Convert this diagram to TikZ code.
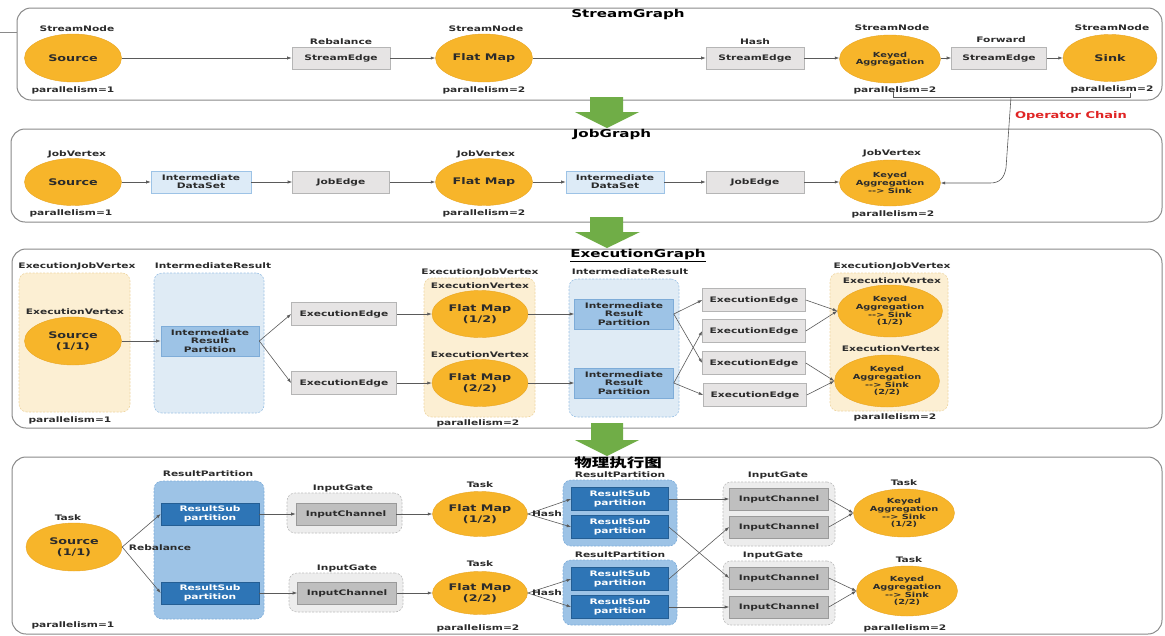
\documentclass[tikz,border=0pt]{standalone}
\usepackage{fontspec}
\newfontfamily\dfont{DejaVu Sans}[FakeStretch=1.4]
\newfontfamily\cjkfont{Noto Sans CJK SC}[FakeStretch=1.4]
\usetikzlibrary{arrows.meta,shapes.geometric}
\definecolor{txt}{HTML}{2B2B2B}
\definecolor{frm}{HTML}{8A8A8A}
\definecolor{orng}{HTML}{F7B52A}
\definecolor{orngd}{HTML}{E9A520}
\definecolor{ebf}{HTML}{E6E4E4}
\definecolor{ebd}{HTML}{B5B5B5}
\definecolor{dsf}{HTML}{DDEBF7}
\definecolor{dsd}{HTML}{9DC3E6}
\definecolor{irpf}{HTML}{9DC3E6}
\definecolor{irpd}{HTML}{7EACD8}
\definecolor{rspf}{HTML}{2E75B6}
\definecolor{rspd}{HTML}{245E94}
\definecolor{icf}{HTML}{BFBFBF}
\definecolor{icd}{HTML}{9A9A9A}
\definecolor{gof}{HTML}{FCEFD3}
\definecolor{god}{HTML}{EED6A3}
\definecolor{gbf}{HTML}{DFEBF5}
\definecolor{gbd}{HTML}{9DC3E6}
\definecolor{grf}{HTML}{9DC3E6}
\definecolor{grd}{HTML}{7FAEDB}
\definecolor{ggf}{HTML}{EDEDED}
\definecolor{ggd}{HTML}{BDBDBD}
\definecolor{cn}{HTML}{5A5A5A}
\definecolor{grn}{HTML}{70AD47}
\definecolor{opred}{HTML}{E02424}
\begin{document}
\begin{tikzpicture}[x=1pt,y=-1pt,
  every node/.style={text=txt},
  frame/.style={draw=frm, line width=1pt, rounded corners=14pt, inner sep=0pt},
  title/.style={inner sep=0pt, font=\dfont\bfseries\fontsize{10.8}{12}\selectfont, text=black},
  lbl/.style={inner sep=0pt, font=\dfont\bfseries\fontsize{7.6}{8}\selectfont},
  ell/.style={ellipse, fill=orng, draw=orngd, line width=0.4pt, inner sep=0pt, align=center,
    minimum width=97pt, minimum height=48pt, font=\dfont\bfseries\fontsize{9.1}{11.4}\selectfont},
  ells/.style={ell, minimum width=101pt, font=\dfont\bfseries\fontsize{7}{7.8}\selectfont},
  ebox/.style={rectangle, fill=ebf, draw=ebd, line width=0.6pt, inner sep=0pt, align=center,
    minimum width=98pt, minimum height=22pt, font=\dfont\bfseries\fontsize{7.6}{8.3}\selectfont},
  dsbox/.style={ebox, fill=dsf, draw=dsd},
  irpbox/.style={ebox, fill=irpf, draw=irpd, minimum width=98pt, minimum height=30pt},
  exbox/.style={ebox, minimum width=103pt, minimum height=23pt},
  rspbox/.style={ebox, fill=rspf, draw=rspd, text=white, minimum width=97pt, minimum height=23pt},
  icbox/.style={ebox, fill=icf, draw=icd, minimum width=99pt, minimum height=22pt},
  grpO/.style={rectangle, rounded corners=8pt, fill=gof, draw=god, dash pattern=on 2pt off 1.5pt, line width=0.6pt, inner sep=0pt},
  grpB/.style={grpO, fill=gbf, draw=gbd},
  grpR/.style={grpO, fill=grf, draw=grd},
  grpG/.style={grpO, fill=ggf, draw=ggd},
  conn/.style={draw=cn, line width=0.6pt, -{Latex[length=4.5pt,width=3.2pt]}},
  cline/.style={draw=cn, line width=0.6pt},
  gar/.style={fill=grn}
]
\useasboundingbox (0,0) rectangle (1165,635);
\fill[white] (0,0) rectangle (1165,635);

% ---------------- frames ----------------
\node[frame, minimum width=1145pt, minimum height=92pt] (F1) at (589.5,54) {};
\node[frame, minimum width=1151pt, minimum height=93pt] (F2) at (586.5,175.5) {};
\node[frame, minimum width=1150pt, minimum height=179pt] (F3) at (587,338.5) {};
\node[frame, minimum width=1150pt, minimum height=177pt] (F4) at (587,545.5) {};
\coordinate (lin) at (0,32);
\draw[cline, draw=frm, line width=1pt] (lin) -- (F1.west |- lin);

% ---------------- green arrows ----------------
\fill[gar] (590,97) -- (623,97) -- (623,112) -- (639,112) -- (607,128) -- (575,112) -- (590,112) -- cycle;
\fill[gar] (590,217) -- (623,217) -- (623,232) -- (640,232) -- (607,248) -- (575,232) -- (590,232) -- cycle;
\fill[gar] (591,423) -- (623,423) -- (623,440) -- (639,440) -- (607,456) -- (575,440) -- (591,440) -- cycle;

% ---------------- titles ----------------
\node[title] (T1) at (628,15) {StreamGraph};
\node[title] (T2) at (612,135) {JobGraph};
\node[title] (T3) at (638,256) {\underline{ExecutionGraph}};
\node[title, font=\cjkfont\bfseries\fontsize{12.5}{14}\selectfont] (T4) at (618,463) {物理执行图};

% ================= StreamGraph =================
\node[ell] (s1) at (73,58) {Source};
\node[lbl] (s1t) at (77,29) {StreamNode};
\node[lbl] (s1p) at (73,90) {parallelism=1};
\node[ebox] (e1) at (341,58) {StreamEdge};
\node[lbl] (e1t) at (341,42) {Rebalance};
\node[ell] (fm1) at (484,58) {Flat Map};
\node[lbl] (fm1t) at (486,29) {StreamNode};
\node[lbl] (fm1p) at (484,90) {parallelism=2};
\node[ebox] (e2) at (755,58) {StreamEdge};
\node[lbl] (e2t) at (755,42) {Hash};
\node[ells, minimum height=48pt] (k1) at (890,59) {Keyed\\Aggregation};
\node[lbl] (k1t) at (892,28) {StreamNode};
\node[lbl] (k1p) at (895,90) {parallelism=2};
\node[ebox, minimum width=95pt] (e3) at (999,58) {StreamEdge};
\node[lbl] (e3t) at (1001,40) {Forward};
\node[ell, minimum width=94pt, minimum height=47pt] (sk) at (1110,58) {Sink};
\node[lbl] (skt) at (1112,28) {StreamNode};
\node[lbl] (skp) at (1112,89) {parallelism=2};

\draw[conn] (s1.east) -- (e1.west);
\draw[conn] (e1.east) -- (fm1.west);
\draw[conn] (fm1.east) -- (e2.west);
\draw[conn] (e2.east) -- (k1.west |- e2.east);
\draw[conn] (k1.east |- e3.west) -- (e3.west);
\draw[conn] (e3.east) -- (sk.west);

% operator chain bracket
\coordinate (ocA) at (893,92);
\coordinate (ocB) at (893,97);
\coordinate (ocC) at (1130,97);
\coordinate (ocD) at (1130,93);
\coordinate (ocM) at (1011,97);
\draw[cline] (ocA) -- (ocB) -- (ocC) -- (ocD);
\node[inner sep=0pt, font=\dfont\bfseries\fontsize{9.3}{10}\selectfont, text=opred] (opc) at (1071,116) {Operator Chain};

% ================= JobGraph =================
\node[ell, minimum height=47pt] (s2) at (73,182) {Source};
\node[lbl] (s2t) at (77,154) {JobVertex};
\node[lbl] (s2p) at (71,213) {parallelism=1};
\node[dsbox, minimum width=100pt] (d1) at (201,182) {Intermediate\\DataSet};
\node[ebox, minimum width=97pt] (j1) at (341,182) {JobEdge};
\node[ell, minimum height=47pt] (fm2) at (484,182) {Flat Map};
\node[lbl] (fm2t) at (486,154) {JobVertex};
\node[lbl] (fm2p) at (484,213) {parallelism=2};
\node[dsbox, minimum width=98pt] (d2) at (615,182) {Intermediate\\DataSet};
\node[ebox] (j2) at (755,182) {JobEdge};
\node[ells, minimum height=46pt] (k2) at (890,183) {Keyed\\Aggregation\\-{}-> Sink};
\node[lbl] (k2t) at (892,153) {JobVertex};
\node[lbl] (k2p) at (893,214) {parallelism=2};

\draw[conn] (s2.east) -- (d1.west);
\draw[conn] (d1.east) -- (j1.west);
\draw[conn] (j1.east) -- (fm2.west);
\draw[conn] (fm2.east) -- (d2.west);
\draw[conn] (d2.east) -- (j2.west);
\draw[conn] (j2.east) -- (k2.west |- j2.east);
\draw[conn] (ocM) -- (1006,168) .. controls (1004,178) and (1000,183) .. (990,183) -- (k2.east);

% ================= ExecutionGraph =================
\node[grpO, minimum width=111pt, minimum height=139pt] (og1) at (74.5,342.5) {};
\node[grpB, minimum width=110pt, minimum height=140pt] (bg1) at (209,343) {};
\node[grpO, minimum width=111pt, minimum height=139pt] (og2) at (479.5,347.5) {};
\node[grpB, minimum width=110pt, minimum height=138pt] (bg2) at (624,348) {};
\node[grpO, minimum width=118pt, minimum height=138pt] (og3) at (889,342) {};

\node[lbl] (og1t) at (77,266) {ExecutionJobVertex};
\node[lbl] (ev1) at (75,312) {ExecutionVertex};
\node[ell, minimum height=48pt] (s3) at (73,341) {Source\\(1/1)};
\node[lbl] (s3p) at (70,420) {parallelism=1};
\node[lbl] (bg1t) at (213,266) {IntermediateResult};
\node[irpbox] (irp0) at (210,341) {Intermediate\\Result\\Partition};
\node[exbox, minimum width=105pt] (ee1) at (344,314) {ExecutionEdge};
\node[exbox, minimum width=105pt] (ee2) at (344,383) {ExecutionEdge};

\node[lbl] (og2t) at (480,272) {ExecutionJobVertex};
\node[lbl] (ev2) at (480,286) {ExecutionVertex};
\node[ell, minimum width=96pt, minimum height=47pt] (fm3a) at (480,314) {Flat Map\\(1/2)};
\node[lbl] (ev3) at (480,355) {ExecutionVertex};
\node[ell, minimum width=96pt, minimum height=47pt] (fm3b) at (480,383) {Flat Map\\(2/2)};
\node[lbl] (og2p) at (478,423) {parallelism=2};
\node[lbl] (bg2t) at (630,272) {IntermediateResult};
\node[irpbox, minimum width=99pt] (irp1) at (624,314) {Intermediate\\Result\\Partition};
\node[irpbox, minimum width=99pt] (irp2) at (624,383) {Intermediate\\Result\\Partition};
\node[exbox] (ee3) at (754,300) {ExecutionEdge};
\node[exbox] (ee4) at (754,331) {ExecutionEdge};
\node[exbox] (ee5) at (754,363) {ExecutionEdge};
\node[exbox] (ee6) at (755,395) {ExecutionEdge};

\node[lbl] (og3t) at (892,266) {ExecutionJobVertex};
\node[lbl] (ev4) at (892,281) {ExecutionVertex};
\node[ells, minimum width=105pt, minimum height=52pt] (ka3a) at (890,311) {Keyed\\Aggregation\\-{}-> Sink\\(1/2)};
\node[lbl] (ev5) at (891,349) {ExecutionVertex};
\node[ells, minimum width=105pt, minimum height=52pt] (ka3b) at (887,381) {Keyed\\Aggregation\\-{}-> Sink\\(2/2)};
\node[lbl] (og3p) at (895,417) {parallelism=2};

\draw[conn] (s3.east) -- (irp0.west);
\draw[conn] (irp0.east) -- (ee1.west);
\draw[conn] (irp0.east) -- (ee2.west);
\draw[conn] (ee1.east) -- (fm3a.west);
\draw[conn] (ee2.east) -- (fm3b.west);
\draw[conn] (fm3a.east) -- (irp1.west);
\draw[conn] (fm3b.east) -- (irp2.west);
\draw[conn] (irp1.east) -- (ee3.west);
\draw[conn] (irp1.east) -- (ee5.west);
\draw[conn] (irp2.east) -- (ee4.west);
\draw[conn] (irp2.east) -- (ee6.west);
\draw[conn] (ee3.east) -- (ka3a.west);
\draw[conn] (ee4.east) -- (ka3a.west);
\draw[conn] (ee5.east) -- (ka3b.west);
\draw[conn] (ee6.east) -- (ka3b.west);

% ================= physical graph =================
\node[grpR, minimum width=110pt, minimum height=138pt] (rp1) at (209,550) {};
\node[grpG, minimum width=115pt, minimum height=40pt] (g1) at (344.5,513) {};
\node[grpG, minimum width=114pt, minimum height=39pt] (g2) at (346,592.5) {};
\node[grpR, minimum width=114pt, minimum height=66pt] (rp2) at (620,513) {};
\node[grpR, minimum width=114pt, minimum height=65pt] (rp3) at (620,592.5) {};
\node[grpG, minimum width=112pt, minimum height=64pt] (g3) at (779,514) {};
\node[grpG, minimum width=112pt, minimum height=64pt] (g4) at (779,593) {};

\node[lbl] (s4t) at (68,518) {Task};
\node[ell, minimum width=96pt, minimum height=48pt] (s4) at (74,547) {Source\\(1/1)};
\node[lbl] (s4p) at (73,625) {parallelism=1};
\node[lbl] (rp1t) at (208,474) {ResultPartition};
\node[rspbox, minimum width=98pt, minimum height=22pt] (r1) at (210,514) {ResultSub\\partition};
\node[rspbox, minimum width=98pt, minimum height=22pt] (r2) at (210,593) {ResultSub\\partition};
\node[lbl] (g1t) at (343,488) {InputGate};
\node[icbox, minimum width=100pt] (ic1) at (346,514) {InputChannel};
\node[lbl] (g2t) at (347,568) {InputGate};
\node[icbox] (ic2) at (347,593) {InputChannel};

\node[lbl] (fm4at) at (480,485) {Task};
\node[ell, minimum width=95pt, minimum height=45pt] (fm4a) at (480,514) {Flat Map\\(1/2)};
\node[lbl] (fm4bt) at (480,564) {Task};
\node[ell, minimum width=95pt, minimum height=43pt] (fm4b) at (480,593) {Flat Map\\(2/2)};
\node[lbl] (fm4p) at (478,628) {parallelism=2};

\node[lbl] (rp2t) at (620,475) {ResultPartition};
\node[rspbox] (r1a) at (620,499) {ResultSub\\partition};
\node[rspbox] (r1b) at (620,527) {ResultSub\\partition};
\node[lbl] (rp3t) at (620,555) {ResultPartition};
\node[rspbox] (r2a) at (620,579) {ResultSub\\partition};
\node[rspbox] (r2b) at (620,607) {ResultSub\\partition};

\node[lbl] (g3t) at (778,475) {InputGate};
\node[icbox] (ic1a) at (779,499) {InputChannel};
\node[icbox] (ic1b) at (779,527) {InputChannel};
\node[lbl] (g4t) at (773,555) {InputGate};
\node[icbox] (ic2a) at (779,578) {InputChannel};
\node[icbox] (ic2b) at (779,607) {InputChannel};

\node[lbl] (ka4at) at (904,483) {Task};
\node[ells, minimum width=101pt, minimum height=48pt] (ka4a) at (904,513) {Keyed\\Aggregation\\-{}-> Sink\\(1/2)};
\node[lbl] (ka4bt) at (909,560) {Task};
\node[ells, minimum width=101pt, minimum height=50pt] (ka4b) at (907,591) {Keyed\\Aggregation\\-{}-> Sink\\(2/2)};
\node[lbl] (ka4p) at (905,628) {parallelism=2};

\draw[conn] (s4.east) -- (r1.west);
\draw[conn] (s4.east) -- (r2.west);
\draw[conn] (r1.east) -- (ic1.west);
\draw[conn] (r2.east) -- (ic2.west);
\draw[conn] (ic1.east) -- (fm4a.west);
\draw[conn] (ic2.east) -- (fm4b.west);
\draw[conn] (fm4a.east) -- (r1a.west);
\draw[conn] (fm4a.east) -- (r1b.west);
\draw[conn] (fm4b.east) -- (r2a.west);
\draw[conn] (fm4b.east) -- (r2b.west);
\draw[conn] (r1a.east) -- (ic1a.west);
\draw[conn] (r1b.east) -- (ic2a.west);
\draw[conn] (r2a.east) -- (ic1b.west);
\draw[conn] (r2b.east) -- (ic2b.west);
\draw[conn] (ic1a.east) -- (ka4a.west);
\draw[conn] (ic1b.east) -- (ka4a.west);
\draw[conn] (ic2a.east) -- (ka4b.west);
\draw[conn] (ic2b.east) -- (ka4b.west);

\node[lbl] (rebl) at (160,548) {Rebalance};
\node[lbl] (hash1) at (547,514) {Hash};
\node[lbl] (hash2) at (547,593) {Hash};
\end{tikzpicture}
\end{document}
